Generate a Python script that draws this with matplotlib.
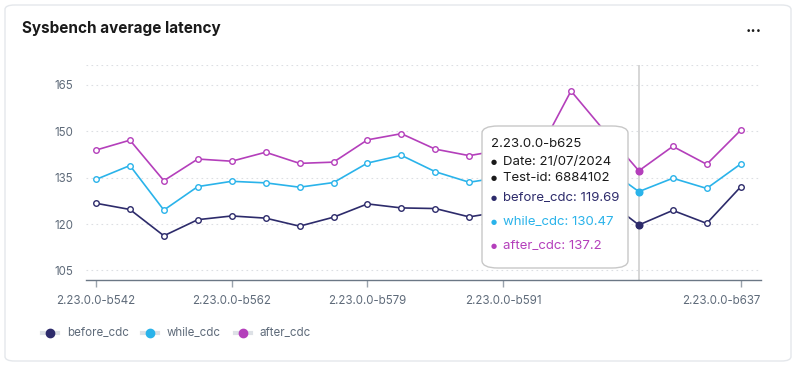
import matplotlib
matplotlib.use("Agg")
import matplotlib.pyplot as plt
import matplotlib.transforms as mtrans
from matplotlib.patches import FancyBboxPatch
from matplotlib.lines import Line2D

plt.rcParams['font.family'] = ['Inter', 'DejaVu Sans']

# values (points hidden by the tooltip are estimated)
before_cdc = [126.7, 124.7, 116.2, 121.4, 122.6, 121.9, 119.3, 122.2, 126.5, 125.2,
              125.0, 122.3, 124.1, 123.0, 134.0, 128.1, 119.69, 124.4, 120.2, 132.0]
while_cdc = [134.4, 138.9, 124.5, 132.1, 133.8, 133.3, 131.9, 133.4, 139.7, 142.2,
             136.9, 133.5, 135.2, 134.5, 148.0, 138.4, 130.47, 134.8, 131.5, 139.4]
after_cdc = [143.9, 147.1, 134.0, 141.0, 140.3, 143.2, 139.6, 140.0, 147.2, 149.2,
             144.2, 142.1, 144.0, 142.3, 163.0, 149.9, 137.2, 145.1, 139.3, 150.3]
tick_idx = [0, 4, 8, 12, 19]
tick_labels = ["2.23.0.0-b542", "2.23.0.0-b562", "2.23.0.0-b579", "2.23.0.0-b591", "2.23.0.0-b637"]
yticks = [105, 120, 135, 150, 165]
hover = 16
hover_build = "2.23.0.0-b625"
hover_date = "21/07/2024"
hover_test = "6884102"

series = [("before_cdc", before_cdc, "#2d2b6b"),
          ("while_cdc", while_cdc, "#2ab3ea"),
          ("after_cdc", after_cdc, "#b43fbb")]

W, H = 798, 370
fig = plt.figure(figsize=(W / 100, H / 100), dpi=100)

def fx(x):
    return x / W

def fy(y):
    return 1 - y / H

# card
card = FancyBboxPatch((fx(5), fy(361)), fx(786), 356 / H,
                      boxstyle="round,pad=0,rounding_size=0.012",
                      transform=fig.transFigure, facecolor="white",
                      edgecolor="#e4e7eb", linewidth=1.0, zorder=-1)
fig.add_artist(card)
fig.text(fx(22), fy(29), "Sysbench average latency", fontsize=11, fontweight="bold",
         color="#1a1a1a", va="center", ha="left")
fig.text(fx(754), fy(31), "•••", fontsize=6.5, color="#1a1a1a", va="center", ha="center",
         family=['DejaVu Sans'])

ax = fig.add_axes([fx(86), fy(280), fx(761) - fx(86), (280 - 65) / H])
ax.set_facecolor("none")
x = list(range(len(before_cdc)))
ax.set_xlim(-0.295, 19.6)
ax.set_ylim(101.9, 171.4)

for name, vals, col in series:
    ax.plot(x, vals, color=col, linewidth=1.2, marker="o", markersize=4,
            markerfacecolor="white", markeredgecolor=col, markeredgewidth=1.0, zorder=3)
    ax.plot([hover], [vals[hover]], marker="o", markersize=4.8, color=col, zorder=4)

ax.axvline(hover, color="#cfcfcf", linewidth=1.2, zorder=2)

ax.set_yticks(yticks)
ax.set_yticklabels([str(v) for v in yticks])
for v in yticks + [171.4]:
    ax.axhline(v, color="#dcdfe3", linewidth=0.8, linestyle=(0, (1.5, 3)), zorder=1)
ax.set_xticks(tick_idx)
ax.set_xticklabels(tick_labels)

for s in ["top", "right", "left"]:
    ax.spines[s].set_visible(False)
ax.spines["bottom"].set_color("#6b7785")
ax.spines["bottom"].set_linewidth(1.0)
ax.tick_params(axis="y", length=0, pad=9, labelsize=8.3, labelcolor="#5f6b7a")
ax.tick_params(axis="x", length=5, width=1, color="#9aa3ad", pad=6, labelsize=8.3,
               labelcolor="#5f6b7a")
# last label is pushed inside the plot area
last = ax.get_xticklabels()[-1]
last.set_horizontalalignment("right")
last.set_transform(last.get_transform() + mtrans.ScaledTranslation(20 / 100, 0, fig.dpi_scale_trans))

# tooltip
tip = FancyBboxPatch((fx(482), fy(268)), fx(146), 142 / H,
                     boxstyle="round,pad=0,rounding_size=0.02",
                     transform=fig.transFigure, facecolor="white",
                     edgecolor="#c8c8c8", linewidth=1.0, zorder=5)
fig.add_artist(tip)
fig.text(fx(491), fy(144), hover_build, fontsize=9.5, color="#1a1a1a",
         va="center", ha="left", zorder=6)
rows = [("Date: " + hover_date, "#1a1a1a", 162),
        ("Test-id: " + hover_test, "#1a1a1a", 178)]
for name, vals, col in series:
    rows.append((f"{name}: {vals[hover]:g}", col, {"before_cdc": 198, "while_cdc": 222, "after_cdc": 246}[name]))
for txt, col, yy in rows:
    fig.text(fx(491), fy(yy), "●", fontsize=5, color=col, va="center", ha="left",
             zorder=6, family=['DejaVu Sans'])
    fig.text(fx(503), fy(yy), txt, fontsize=9.5, color=col, va="center", ha="left", zorder=6)

# legend
lx = [50, 150, 243]
for (name, vals, col), px in zip(series, lx):
    fig.add_artist(Line2D([fx(px - 8), fx(px + 8)], [fy(333), fy(333)],
                          transform=fig.transFigure, color="#dde1e6", linewidth=3, zorder=2))
    fig.add_artist(Line2D([fx(px)], [fy(333)], transform=fig.transFigure, marker="o",
                          markersize=6, color=col, linestyle="none", zorder=3))
    fig.text(fx(px + 17), fy(333), name, fontsize=8.3, color="#5f6b7a", va="center", ha="left")

fig.savefig("out.png", dpi=100)
